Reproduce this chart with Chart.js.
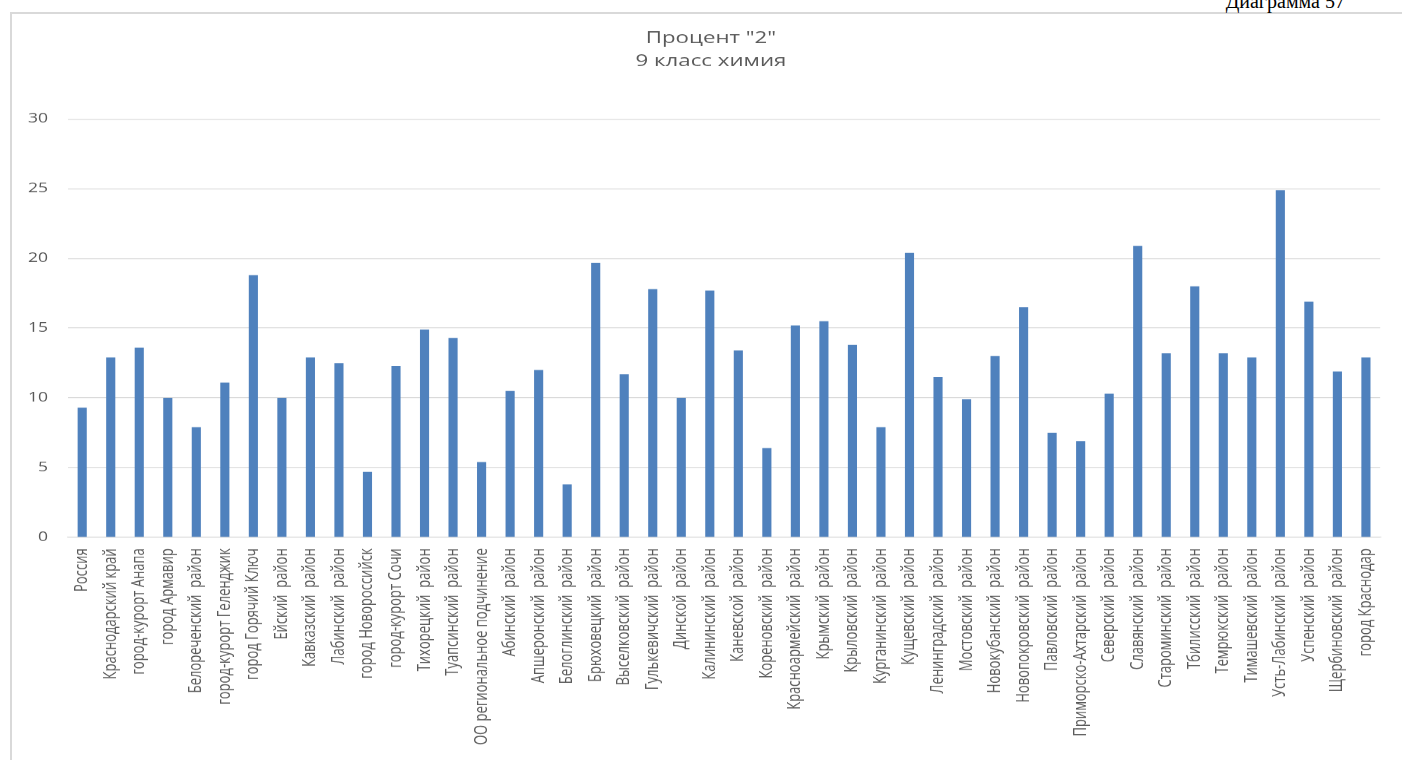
<!DOCTYPE html>
<html lang="ru">
<head>
<meta charset="utf-8">
<title>Процент "2" — 9 класс химия</title>
<script src="https://cdn.jsdelivr.net/npm/chart.js@4.4.1/dist/chart.umd.min.js"></script>
<style>
  html, body { margin: 0; padding: 0; background: #fff; overflow: hidden; }
  body { width: 1402px; height: 760px; position: relative; }
  #frame { position: absolute; left: 10px; top: 12px; width: 1500px; height: 800px;
           border-left: 2px solid #d9d9d9; border-top: 2px solid #d9d9d9; }
  #caption { position: absolute; right: 57px; top: -9px; white-space: nowrap;
             font: 20px/20px 'Liberation Serif', 'Times New Roman', serif; color: #000; }
  #wrap { position: absolute; left: 0; top: 0; width: 1040px; height: 760px;
          transform-origin: 0 0; }
</style>
</head>
<body>
<div id="frame"></div>
<div id="caption">Диаграмма 57</div>
<div id="wrap"><canvas id="chart"></canvas></div>
<script>
    const categories = [
        'Россия', 'Краснодарский край', 'город-курорт Анапа', 'город Армавир',
        'Белореченский  район', 'город-курорт Геленджик', 'город Горячий Ключ', 'Ейский  район',
        'Кавказский  район', 'Лабинский  район', 'город Новороссийск', 'город-курорт Сочи',
        'Тихорецкий  район', 'Туапсинский  район', 'ОО региональное подчинение', 'Абинский  район',
        'Апшеронский  район', 'Белоглинский  район', 'Брюховецкий  район', 'Выселковский  район',
        'Гулькевичский  район', 'Динской  район', 'Калининский  район', 'Каневской  район',
        'Кореновский  район', 'Красноармейский  район', 'Крымский  район', 'Крыловский  район',
        'Курганинский  район', 'Кущевский  район', 'Ленинградский  район', 'Мостовский  район',
        'Новокубанский  район', 'Новопокровский  район', 'Павловский  район', 'Приморско-Ахтарский  район',
        'Северский  район', 'Славянский  район', 'Староминский  район', 'Тбилисский  район',
        'Темрюкский  район', 'Тимашевский  район', 'Усть-Лабинский  район', 'Успенский  район',
        'Щербиновский  район', 'город Краснодар'
    ];

    const percentValues = [
        9.3, 12.9, 13.6, 10.0, 7.9, 11.1, 18.8, 10.0,
        12.9, 12.5, 4.7, 12.3, 14.9, 14.3, 5.4, 10.5,
        12.0, 3.8, 19.7, 11.7, 17.8, 10.0, 17.7, 13.4,
        6.4, 15.2, 15.5, 13.8, 7.9, 20.4, 11.5, 9.9,
        13.0, 16.5, 7.5, 6.9, 10.3, 20.9, 13.2, 18.0,
        13.2, 12.9, 24.9, 16.9, 11.9, 12.9
    ];

    const yTickValues = [0, 5, 10, 15, 20, 25, 30];
    const titleLines = ['Процент "2"', '9 класс химия'];

    // the source picture is stretched sideways, so the canvas is too
    const STRETCH = 1402 / 1040;
    document.getElementById('wrap').style.transform = 'scaleX(' + STRETCH + ')';

    const TEXT_COLOR = '#595959';
    const GRID_COLOR = '#d9d9d9';
    const FONT = "'Open Sans', 'Noto Sans', sans-serif";

    // title is centred on the whole frame, not on the canvas
    const titleOffset = {
        id: 'titleOffset',
        afterLayout(chart) {
            if (chart.titleBlock) chart.titleBlock.left += 29.6;
        }
    };

    const ctx = document.getElementById('chart').getContext('2d');
    new Chart(ctx, {
        type: 'bar',
        data: {
            labels: categories,
            datasets: [{
                label: titleLines[0],
                data: percentValues,
                backgroundColor: '#4f81bd',
                borderWidth: 0,
                categoryPercentage: 1,
                barPercentage: 0.32
            }]
        },
        options: {
            responsive: true,
            maintainAspectRatio: false,
            animation: false,
            devicePixelRatio: STRETCH,
            layout: {
                padding: { left: 0, right: 14.8, top: 0, bottom: 0 }
            },
            plugins: {
                legend: { display: false },
                tooltip: { enabled: false },
                title: {
                    display: true,
                    text: titleLines,
                    color: TEXT_COLOR,
                    font: { family: FONT, size: 16.5, weight: 'normal', lineHeight: 1.4 },
                    padding: { top: 27, bottom: 45.8 }
                }
            },
            scales: {
                x: {
                    grid: { display: false, drawTicks: false },
                    border: { display: true, color: GRID_COLOR },
                    ticks: {
                        autoSkip: false,
                        minRotation: 90,
                        maxRotation: 90,
                        padding: 11,
                        color: TEXT_COLOR,
                        font: { family: FONT, size: 13 }
                    },
                    afterFit: (scale) => { scale.height = 223; }
                },
                y: {
                    min: 0,
                    max: 30,
                    grid: { color: GRID_COLOR, drawTicks: false },
                    border: { display: false },
                    ticks: {
                        padding: 14.8,
                        color: TEXT_COLOR,
                        font: { family: FONT, size: 13 }
                    },
                    afterBuildTicks: (scale) => {
                        scale.ticks = yTickValues.map(v => ({ value: v }));
                    },
                    afterFit: (scale) => { scale.width = 50.4; }
                }
            }
        },
        plugins: [titleOffset]
    });
</script>
</body>
</html>
